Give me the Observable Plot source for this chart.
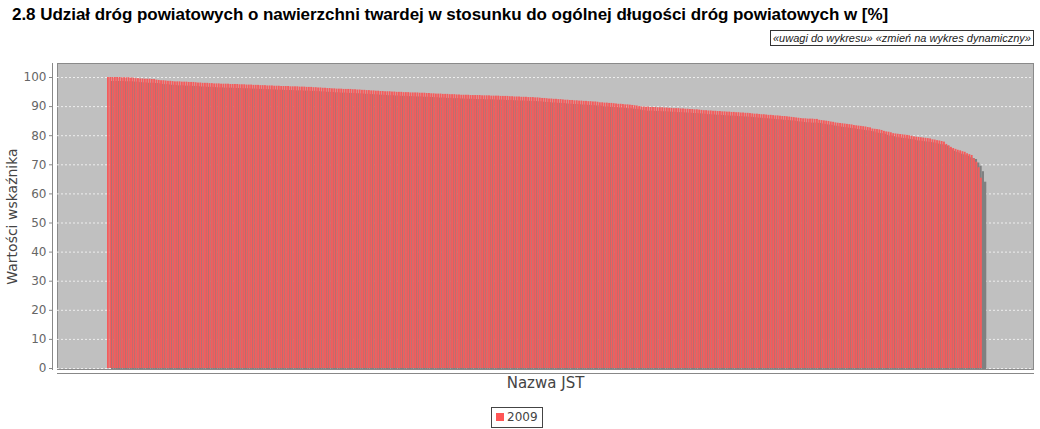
<!DOCTYPE html>
<html>
<head>
<meta charset="utf-8">
<script src="https://cdn.jsdelivr.net/npm/d3@7"></script>
<script src="https://cdn.jsdelivr.net/npm/@observablehq/plot@0.6"></script>
<style>
  html, body { margin: 0; padding: 0; background: #fff; }
  body { width: 1040px; height: 429px; position: relative; overflow: hidden; font-family: "Liberation Sans", Arial, sans-serif; }
  #title { position: absolute; left: 12px; top: 5px; font-size: 17px; font-weight: bold; color: #000; white-space: nowrap; letter-spacing: -0.04px; }
  #links { position: absolute; right: 6px; top: 30px; border: 1px solid #333; padding: 1px 2px; font-size: 11px; font-style: italic; color: #222; white-space: nowrap; line-height: 12px; }
  #chart { position: absolute; left: 0; top: 55px; }
  #legend { position: absolute; left: 491px; top: 407px; border: 1px solid #444; padding: 2px 4px 2px 4px; font-size: 12px; color: #444; font-family: "DejaVu Sans", sans-serif; line-height: 15px; white-space: nowrap; }
  #legend span.sw { display: inline-block; width: 8px; height: 8px; background: #ff5555; margin-right: 3px; vertical-align: 0px; }
</style>
</head>
<body>
<div id="title"></div>
<div id="links"></div>
<div id="chart"></div>
<div id="legend"></div>
<script>
const titleText = "2.8 Udział dróg powiatowych o nawierzchni twardej w stosunku do ogólnej długości dróg powiatowych w [%]";
const linksText = "«uwagi do wykresu» «zmień na wykres dynamiczny»";
const yLabel = "Wartości wskaźnika";
const xLabel = "Nazwa JST";
const seriesName = "2009";
const yTicks = [0, 10, 20, 30, 40, 50, 60, 70, 80, 90, 100];
const values2009 = [
  100.0,100.0,100.0,100.0,100.0,100.0,99.9,99.9,99.9,99.9,99.8,99.8,
  99.6,99.6,99.5,99.5,99.4,99.4,99.4,99.3,99.3,
  99.1,99.0,98.9,98.9,98.8,98.7,98.7,
  98.6,98.5,98.5,98.5,98.4,98.4,98.4,98.3,98.3,98.3,
  98.2,98.1,98.1,98.0,98.0,98.0,97.9,97.9,
  97.8,97.8,97.8,97.7,97.7,97.7,97.7,97.6,97.6,97.6,97.6,
  97.5,97.5,97.5,97.4,97.4,97.4,
  97.3,97.3,97.3,97.2,97.2,97.2,97.1,97.1,97.1,97.0,97.0,97.0,
  96.9,96.9,96.9,96.9,96.8,96.8,96.8,96.8,96.7,96.7,96.7,96.6,96.6,96.6,
  96.5,96.5,96.4,96.4,96.3,96.3,96.2,96.2,96.1,96.1,96.0,96.0,96.0,
  95.9,95.9,95.9,95.9,
  95.8,95.8,95.7,95.7,95.6,95.6,95.5,95.5,
  95.4,95.4,95.3,95.3,95.2,95.2,95.1,95.1,95.1,95.0,95.0,
  94.9,94.9,94.9,94.8,94.8,94.8,94.7,94.7,94.7,94.7,94.6,94.6,94.6,
  94.5,94.5,94.4,94.4,
  94.3,94.3,94.3,94.2,94.2,94.2,94.1,94.1,94.1,94.0,94.0,
  93.9,93.9,93.9,93.9,93.8,93.8,93.8,93.8,93.8,
  93.7,93.7,93.7,93.7,93.6,93.6,93.6,93.6,93.5,93.5,93.5,93.5,
  93.4,93.4,93.3,93.3,93.3,93.2,93.2,93.2,93.1,93.1,93.1,93.0,93.0,
  92.9,92.8,92.8,92.7,92.6,92.6,92.5,92.5,92.4,92.4,92.3,
  92.2,92.2,92.1,92.1,92.0,92.0,91.9,91.9,91.8,91.8,91.7,91.7,91.6,91.6,91.5,
  91.3,91.3,91.2,91.2,91.1,91.1,91.0,
  90.9,90.8,90.8,90.7,90.6,90.6,90.5,
  90.4,90.3,90.2,90.0,89.9,
  89.8,89.8,89.8,89.7,89.7,89.7,89.6,89.6,89.6,89.5,89.5,89.4,89.4,89.3,89.3,89.3,89.2,89.2,89.1,89.1,89.0,89.0,88.9,88.9,88.8,88.7,
  88.6,88.6,88.5,88.5,88.4,88.4,88.3,88.3,88.2,88.2,88.1,88.1,88.0,88.0,87.9,87.9,87.8,87.8,87.7,87.7,87.6,
  87.5,87.4,87.4,87.3,87.2,87.2,87.1,87.0,87.0,86.9,86.8,86.8,86.7,86.6,86.6,86.5,86.4,86.3,86.2,86.1,86.0,85.9,
  85.8,85.8,85.7,85.7,85.7,85.6,85.6,
  85.3,85.2,85.1,85.0,84.9,84.7,84.6,
  84.4,84.3,84.2,84.1,84.0,83.9,83.8,83.7,
  83.5,83.4,83.3,83.2,83.1,83.0,82.8,82.7,
  82.3,82.2,82.1,82.0,81.8,
  81.5,81.3,81.2,81.0,
  80.7,80.6,80.5,80.4,80.3,80.2,80.1,80.0,79.8,
  79.6,79.5,79.4,79.3,79.2,79.1,79.0,78.9,
  78.6,78.5,78.3,78.2,78.0,77.8,
  77.0,76.5,76.0,
  75.6,75.3,75.0,74.8,74.5,74.3,
  73.8,73.5,73.2,
  72.0,70.9,69.0,65.4
];
// JST names are not shown on the chart; categories are identified by rank
const categories = values2009.map((_, i) => "JST " + (i + 1));

const data = categories.map((c, i) => ({jst: c, value: values2009[i]}));

document.getElementById("title").textContent = titleText;
document.getElementById("links").textContent = linksText;
document.getElementById("legend").innerHTML = '<span class="sw"></span>' + seriesName;

const chart = Plot.plot({
  width: 1040,
  height: 340,
  marginLeft: 57,
  marginRight: 7,
  marginTop: 8,
  marginBottom: 26,
  style: {fontFamily: "DejaVu Sans, sans-serif", fontSize: "12px", color: "#555", background: "transparent"},
  x: {type: "band", domain: categories, range: [107, 982.3], paddingInner: 0, paddingOuter: 0, axis: null},
  y: {domain: [0, 100], range: [313, 22], axis: null},
  marks: [
    Plot.frame({fill: "#c0c0c0", stroke: "#8a8a8a"}),
    Plot.gridY(yTicks, {stroke: "#eeeeee", strokeOpacity: 1, strokeDasharray: "2,2"}),
    Plot.barY(data, {x: "jst", y: "value", fill: "#808080", dx: 4, dy: 4, clip: "frame"}),
    Plot.barY(data, {x: "jst", y: "value", fill: "#f45c5c", insetRight: 0.45, clip: "frame"}),
    Plot.frame({anchor: "left", dx: -5, stroke: "#888"}),
    Plot.frame({anchor: "bottom", dy: 4, stroke: "#888"}),
    Plot.axisY(yTicks, {dx: -5, tickSize: 3, tickPadding: 3, label: null, stroke: "#888", fill: "#666", fontSize: 12}),
    Plot.text([yLabel], {frameAnchor: "left", rotate: -90, dx: -45, textAnchor: "middle", text: d => d, fontSize: 14, fill: "#444"}),
    Plot.text([xLabel], {frameAnchor: "bottom", dy: 18, text: d => d, fontSize: 15, fill: "#444"})
  ]
});
document.getElementById("chart").appendChild(chart);
</script>
</body>
</html>
